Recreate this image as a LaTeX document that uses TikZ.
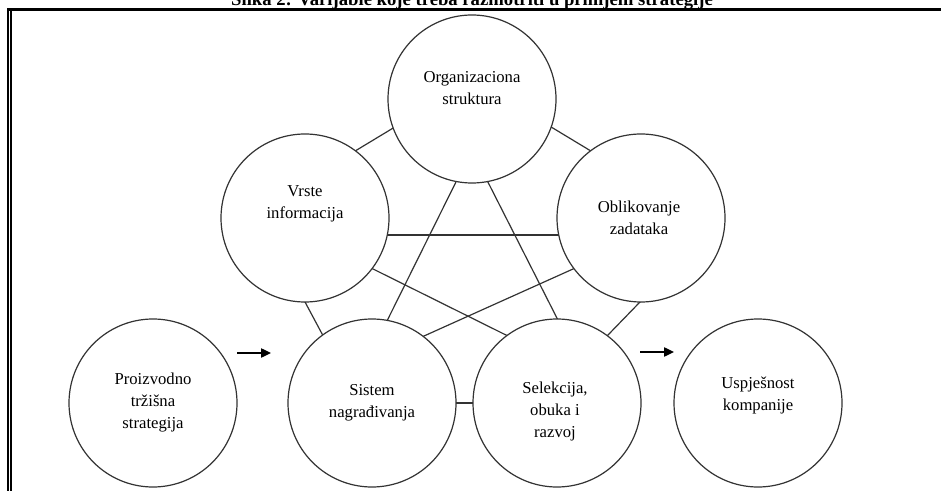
\documentclass[tikz,border=0pt]{standalone}
\usepackage{fontspec}
\setmainfont{Liberation Serif}
\usetikzlibrary{calc,arrows.meta,backgrounds}
\begin{document}
\begin{tikzpicture}[x=0.75pt,y=-0.75pt,
 circ/.style={circle,draw=black!80,line width=0.9pt,fill=white,minimum size=126pt,inner sep=0pt},
 txt/.style={align=center,font=\fontsize{12.5}{16.5}\selectfont,inner sep=0pt},
 link/.style={draw=black!80,line width=0.9pt},
 flow/.style={draw=black,line width=1pt,-{Triangle[length=7.5pt,width=7pt]}},
 frame/.style={fill=black,draw=none},
]
\useasboundingbox (0,0) rectangle (941,491);
\clip (0,0) rectangle (941,491);

% title (cut at the top edge, as in the reference)
\node[anchor=base,font=\fontsize{14}{16}\selectfont\bfseries,inner sep=0pt] (title) at (472,5.5)
  {Slika 2: Varijable koje treba razmotriti u primjeni strategije};

% frame
\fill[frame] (7,8) rectangle (941,11.5);
\fill[frame] (7,8) rectangle (9.3,491);
\fill[frame] (10.3,11.5) rectangle (11.6,491);

% circles
\node[circ] (org) at (472,99) {};
\node[circ] (vrs) at (305,218) {};
\node[circ] (obl) at (641,218) {};
\node[circ] (sis) at (372,403) {};
\node[circ] (sel) at (557,403) {};
\node[circ] (pro) at (153,403) {};
\node[circ] (usp) at (758,403) {};

% texts
\node[txt] (orgt) at ($(org)+(0,-11)$) {Organizaciona\\struktura};
\node[txt] (vrst) at ($(vrs)+(0,-14)$) {Vrste\\informacija};
\node[txt] (oblt) at ($(obl)+(-2,0)$) {Oblikovanje\\zadataka};
\node[txt] (sist) at ($(sis)+(0,0)$) {Sistem\\nagrađivanja};
\node[txt] (selt) at ($(sel)+(-2,8)$) {Selekcija,\\obuka i\\razvoj};
\node[txt] (prot) at ($(pro)+(0,0)$) {Proizvodno\\tržišna\\strategija};
\node[txt] (uspt) at ($(usp)+(0,-8)$) {Uspješnost\\kompanije};

% connecting lines (behind the circles)
\begin{scope}[on background layer]
\draw[link] ($(vrs)+(43.5,-63)$) -- ($(org)+(-70.5,24)$);
\draw[link] ($(obl)+(-43.5,-63)$) -- ($(org)+(72.5,24)$);
\draw[link] ($(vrs)+(75,17)$) -- ($(obl)+(-75,17)$);
\draw[link] ($(org)+(-10.1,71)$) -- ($(sis)+(10.5,-73)$);
\draw[link] ($(org)+(9.8,71)$) -- ($(sel)+(6,-73)$);
\draw[link] ($(vrs)+(55,44.5)$) -- ($(sel)+(-37,-61)$);
\draw[link] ($(obl)+(-56,45.6)$) -- ($(sis)+(38,-60.7)$);
\draw[link] ($(vrs)+(-6.4,72)$) -- ($(sis)+(-44,-58)$);
\draw[link] ($(obl)+(10.6,72)$) -- ($(sel)+(41.3,-58)$);
\draw[link] ($(sis)+(70,0)$) -- ($(sel)+(-70,0)$);
\end{scope}

% arrows
\coordinate (a1s) at (237,353);
\coordinate (a1e) at (271,353);
\coordinate (a2s) at (640,352);
\coordinate (a2e) at (674,352);
\draw[flow] (a1s) -- (a1e);
\draw[flow] (a2s) -- (a2e);
\end{tikzpicture}
\end{document}
